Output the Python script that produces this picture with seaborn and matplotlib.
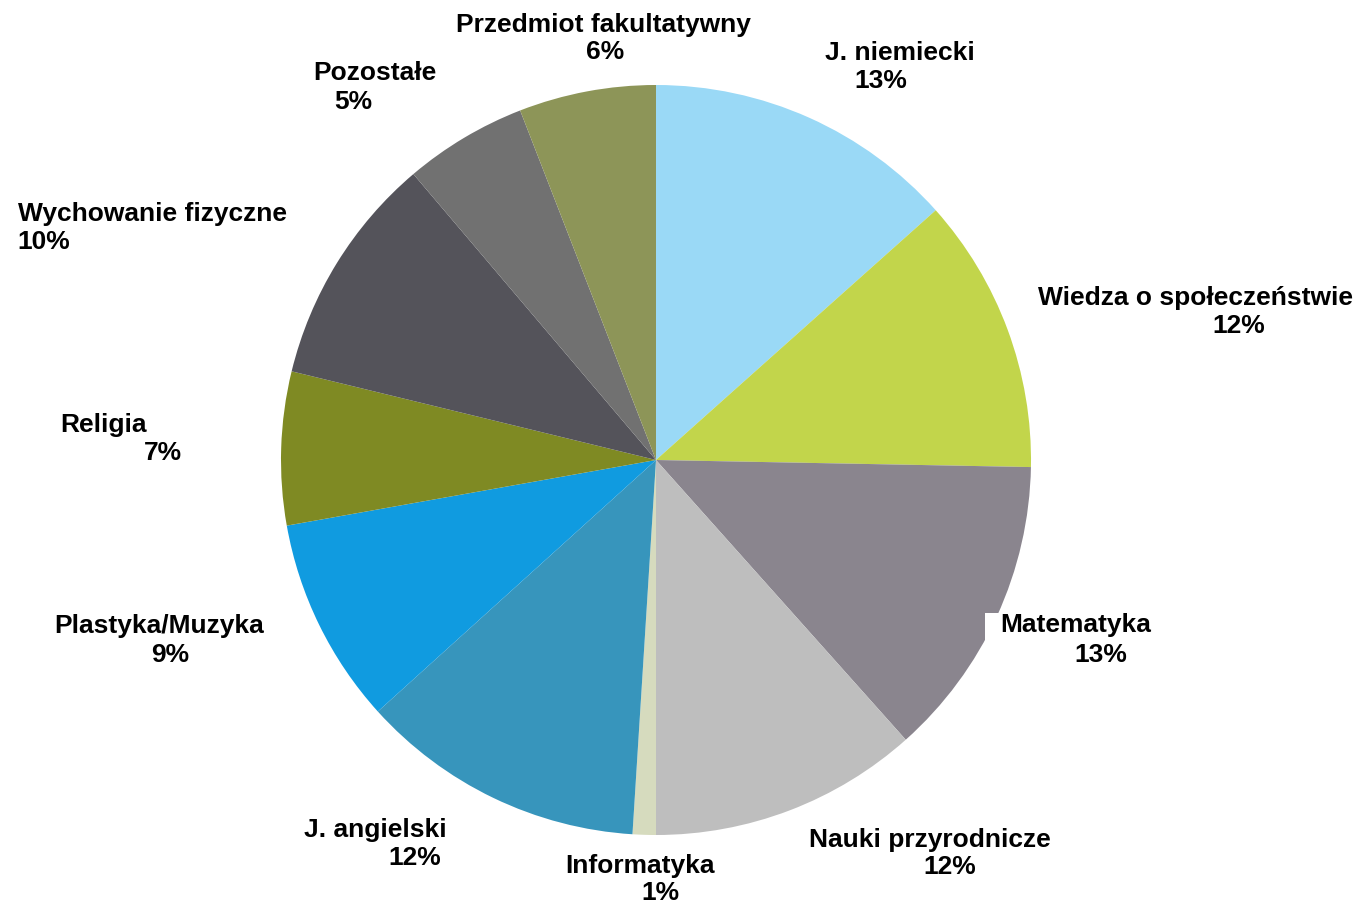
import matplotlib
matplotlib.use("Agg")
import matplotlib.pyplot as plt
from matplotlib.patches import Rectangle
import seaborn as sns

# subject share of weekly lessons (labels show rounded values)
subjects = ['J. niemiecki', 'Wiedza o społeczeństwie', 'Matematyka', 'Nauki przyrodnicze',
            'Informatyka', 'J. angielski', 'Plastyka/Muzyka', 'Religia',
            'Wychowanie fizyczne', 'Pozostałe', 'Przedmiot fakultatywny']
shares = [13.4, 11.9, 13.1, 11.6, 1.0, 12.3, 8.9, 6.6, 10.0, 5.3, 5.9]
colors = ['#9AD9F6', '#C2D54B', '#8A858E', '#BEBEBE', '#D6DBBE', '#3795BC',
          '#109BE0', '#7F8A23', '#54535A', '#717171', '#8D9558']

# label line centres in pixels (name line, percent line)
name_pos = [(900, 53), (1195, 298), (1076, 625), (930, 840), (640, 866), (375, 830),
            (159, 626), (104, 425), (153, 214), (375, 73), (603, 25)]
pct_pos = [(881, 81), (1239, 326), (1101, 655), (950, 867), (660, 893), (415, 858),
           (170, 655), (163, 453), (44, 242), (353, 102), (605, 52)]

sns.set_style("white")
plt.rcParams['font.family'] = ['Liberation Sans', 'DejaVu Sans']

W, H = 1361, 907
fig = plt.figure(figsize=(W / 100, H / 100), dpi=100)
cx, cy, r = 656, 460, 375
ax = fig.add_axes([(cx - r) / W, (H - cy - r) / H, 2 * r / W, 2 * r / H])
ax.pie(shares, colors=colors, startangle=90, counterclock=False,
       wedgeprops=dict(linewidth=0), radius=1)
ax.set_xlim(-1, 1)
ax.set_ylim(-1, 1)
ax.set_aspect('equal')
ax.axis('off')

# white label box that cuts into the Matematyka slice
fig.patches.append(Rectangle((985 / W, 1 - 640 / H), 185 / W, 27 / H,
                             transform=fig.transFigure, facecolor='white',
                             edgecolor='none', zorder=5))

for i, name in enumerate(subjects):
    nx, ny = name_pos[i]
    px, py = pct_pos[i]
    fig.text(nx / W, 1 - ny / H, name, ha='center', va='center', fontsize=19,
             fontweight='bold', color='black', zorder=6)
    fig.text(px / W, 1 - py / H, f'{round(shares[i])}%', ha='center', va='center',
             fontsize=19, fontweight='bold', color='black', zorder=6)

fig.savefig('out.png', dpi=100, facecolor='white')
